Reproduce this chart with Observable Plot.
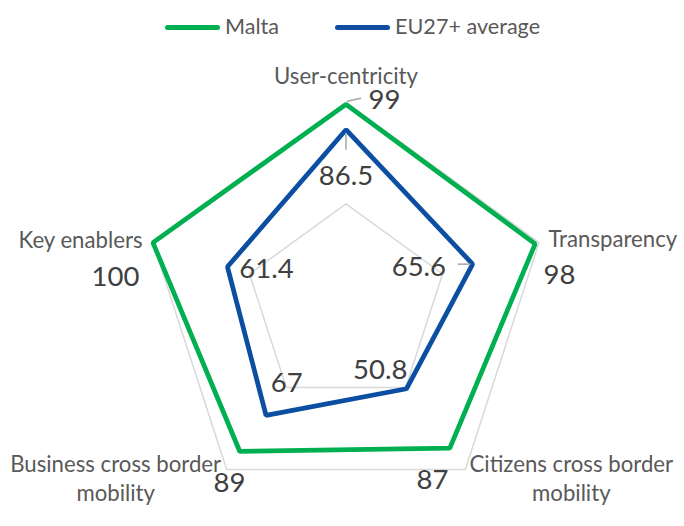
<!DOCTYPE html>
<html>
<head>
<meta charset="utf-8">
<script src="https://cdn.jsdelivr.net/npm/d3@7"></script>
<script src="https://cdn.jsdelivr.net/npm/@observablehq/plot@0.6"></script>
<style>
  html, body { margin: 0; padding: 0; background: #fff; }
  #wrap { width: 684px; font-family: Lato, "Open Sans", sans-serif; }
  #legend { position: relative; height: 52px; width: 684px; }
  .sw { position: absolute; height: 5px; border-radius: 3px; top: 25px; width: 55px; }
  .lt { position: absolute; top: 27px; transform: translateY(-50%); font-size: 21.6px; color: #595959; line-height: 1; white-space: nowrap; }
</style>
</head>
<body>
<div id="wrap">
  <div id="legend"></div>
  <div id="chart"></div>
</div>
<script>
// ---- data ----
const categories = ["User-centricity", "Transparency", "Citizens cross border\nmobility", "Business cross border\nmobility", "Key enablers"];
const seriesNames = ["Malta", "EU27+ average"];
const malta = [99, 98, 87, 89, 100];
const eu = [86.5, 65.6, 50.8, 67, 61.4];
const gridLevels = [50, 100];

// ---- layout / style ----
const colors = ["#00B050", "#0B4EA2"];
const W = 684, H = 474, R = 203, CX = 345.5, CY = 252.8;
const catOff = [[0, -27.5], [9.4, -2.6], [106, 7.5], [-111, 7.5], [-10.4, -2]];
const catAnchor = ["middle", "start", "middle", "middle", "end"];
const maltaOff = [[38.5, -4.3], [24.3, 31.7], [-17.3, 32.3], [-10.3, 32], [-37.5, 35]];
const euOff = [[0, 46.8], [-53.8, 3], [-26.4, -18.5], [20.7, -32.3], [39, 2.7]];
const catFont = 22.2, valFont = 27.5;

const n = categories.length;
const pt = (i, v) => {
  const a = 2 * Math.PI * i / n;
  return { x: Math.sin(a) * v / 100, y: Math.cos(a) * v / 100 };
};
const shift = (p, off) => ({ x: p.x + off[0] / R, y: p.y - off[1] / R });

const gridData = gridLevels.flatMap(l => categories.map((c, i) => ({ level: l, ...pt(i, l) })));
const maltaPts = malta.map((v, i) => ({ ...pt(i, v), v }));
const euPts = eu.map((v, i) => ({ ...pt(i, v), v }));

const catLabels = categories.map((c, i) => ({ text: c, anchor: catAnchor[i], ...shift(pt(i, 100), catOff[i]) }));
const maltaLabels = maltaPts.map((p, i) => ({ text: String(p.v), ...shift(p, maltaOff[i]) }));
const euLabels = euPts.map((p, i) => ({ text: String(p.v), ...shift(p, euOff[i]) }));

// leader lines for a few labels (offsets relative to data points)
const leaders = [
  [shift(maltaPts[0], [1, -3]), shift(maltaPts[0], [15, -6])],
  [shift(euPts[0], [0, 3]), shift(euPts[0], [0, 20])],
  [shift(euPts[1], [-15, 0]), shift(euPts[1], [-2, 0])]
].map(([a, b]) => ({ x1: a.x, y1: a.y, x2: b.x, y2: b.y }));

const catStart = catLabels.filter(d => d.anchor === "start");
const catEnd = catLabels.filter(d => d.anchor === "end");
const catMid = catLabels.filter(d => d.anchor === "middle");

const chart = Plot.plot({
  width: W, height: H,
  margin: 0,
  x: { domain: [-CX / R, (W - CX) / R], range: [0, W], axis: null },
  y: { domain: [-(H - CY) / R, CY / R], range: [H, 0], axis: null },
  style: { fontFamily: "Lato, 'Open Sans', sans-serif", background: "#fff" },
  marks: [
    Plot.line(gridData, { x: "x", y: "y", z: "level", stroke: "#d9d9d9", strokeWidth: 1.5, curve: "linear-closed" }),
    Plot.line(maltaPts, { x: "x", y: "y", stroke: colors[0], strokeWidth: 4.75, curve: "linear-closed", strokeLinejoin: "miter" }),
    Plot.line(euPts, { x: "x", y: "y", stroke: colors[1], strokeWidth: 4.75, curve: "linear-closed", strokeLinejoin: "miter" }),
    Plot.link(leaders, { x1: "x1", y1: "y1", x2: "x2", y2: "y2", stroke: "#a6a6a6", strokeWidth: 1.5 }),
    Plot.text(catMid, { x: "x", y: "y", text: "text", textAnchor: "middle", fill: "#595959", fontSize: catFont, lineHeight: 1.32 }),
    Plot.text(catStart, { x: "x", y: "y", text: "text", textAnchor: "start", fill: "#595959", fontSize: catFont }),
    Plot.text(catEnd, { x: "x", y: "y", text: "text", textAnchor: "end", fill: "#595959", fontSize: catFont }),
    Plot.text(maltaLabels, { x: "x", y: "y", text: "text", fill: "#404040", fontSize: valFont }),
    Plot.text(euLabels, { x: "x", y: "y", text: "text", fill: "#404040", fontSize: valFont })
  ]
});
document.getElementById("chart").appendChild(chart);

// legend
const legend = document.getElementById("legend");
const legendPos = [165, 335];
seriesNames.forEach((name, i) => {
  const sw = document.createElement("div");
  sw.className = "sw";
  sw.style.left = legendPos[i] + "px";
  sw.style.background = colors[i];
  legend.appendChild(sw);
  const t = document.createElement("div");
  t.className = "lt";
  t.style.left = (legendPos[i] + 60) + "px";
  t.textContent = name;
  legend.appendChild(t);
});
</script>
</body>
</html>
